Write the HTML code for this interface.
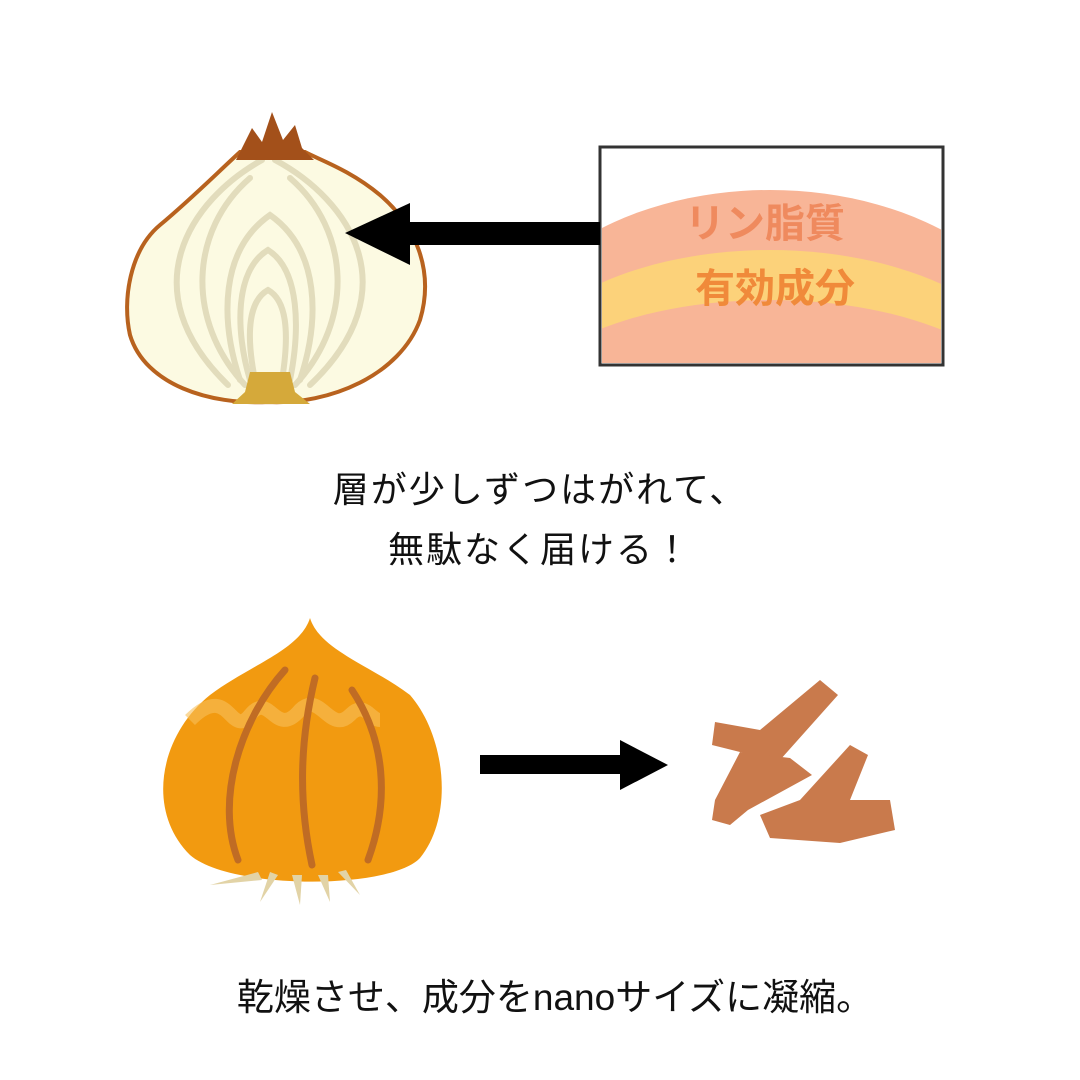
<!DOCTYPE html>
<html><head><meta charset="utf-8"><style>
body{margin:0;background:#fff;}
svg{display:block}
text{font-family:"Liberation Sans","Noto Sans CJK JP",sans-serif;}
</style></head><body>
<svg width="1080" height="1080" viewBox="0 0 1080 1080" xmlns="http://www.w3.org/2000/svg">
<rect width="1080" height="1080" fill="#fff"/>
<!-- cut onion -->
<path d="M240,152 C215,175 190,200 160,225 C130,250 122,300 130,335 C145,385 210,405 268,402 C330,405 400,375 420,320 C435,270 415,225 380,195 C350,170 320,160 305,152 Z" fill="#fcfae2" stroke="#b8621e" stroke-width="4"/>
<g fill="none" stroke="#e2dcbc" stroke-width="6" stroke-linecap="round">
<path d="M262,160 C190,200 130,290 228,385"/>
<path d="M275,160 C350,200 410,290 310,385"/>
<path d="M250,178 C190,230 185,320 245,385"/>
<path d="M290,178 C350,230 355,320 295,385"/>
<path d="M240,380 C220,320 220,250 270,215 C320,250 320,320 300,380"/>
<path d="M250,380 C235,330 235,270 268,250 C300,270 300,330 290,380"/>
<path d="M255,380 C245,330 250,300 268,290 C286,300 290,330 282,380"/>
</g>
<path d="M236,160 L252,128 L262,142 L272,112 L283,140 L295,125 L302,148 L314,160 Z" fill="#a3501a"/>
<path d="M250,372 L290,372 L295,392 L310,404 L232,404 L245,392 Z" fill="#d5a93a"/>
<!-- box -->
<rect x="600" y="147" width="343" height="218" fill="#fff" stroke="#333" stroke-width="3"/>
<clipPath id="bc"><rect x="602" y="149" width="339" height="214"/></clipPath>
<g clip-path="url(#bc)">
<ellipse cx="770" cy="380" rx="280" ry="190" fill="#f8b597"/>
<ellipse cx="770" cy="400" rx="270" ry="150" fill="#fcd27a"/>
<ellipse cx="770" cy="420" rx="260" ry="120" fill="#f8b597"/>
</g>
<text x="765" y="237" font-size="40" font-weight="bold" fill="#ef8a5e" text-anchor="middle">リン脂質</text>
<text x="775" y="302" font-size="40" font-weight="bold" fill="#f08a3a" text-anchor="middle">有効成分</text>
<!-- arrow 1 -->
<rect x="400" y="222" width="200" height="23" fill="#000"/>
<polygon points="345,233 410,203 410,265" fill="#000"/>
<text x="540" y="502" font-size="36" fill="#111" text-anchor="middle" letter-spacing="2">層が少しずつはがれて、</text>
<text x="540" y="562" font-size="36" fill="#111" text-anchor="middle" letter-spacing="2">無駄なく届ける！</text>
<!-- whole onion -->
<path d="M310,618 C300,650 250,665 210,695 C160,735 145,810 190,855 C230,890 390,890 420,858 C455,815 445,735 410,695 C370,665 320,650 310,618 Z" fill="#f29a10"/>
<path d="M190,720 C230,680 230,740 250,715 C270,690 275,740 300,710 C320,690 330,735 350,715 C365,700 370,720 380,720" fill="none" stroke="#f6c05a" stroke-width="14" opacity="0.6"/>
<g fill="none" stroke="#c06c24" stroke-width="7" stroke-linecap="round">
<path d="M285,670 C240,720 215,800 238,860"/>
<path d="M315,678 C300,740 298,800 312,865"/>
<path d="M352,690 C385,740 390,800 368,860"/>
</g>
<g fill="#e2d3a6">
<path d="M210,885 L258,872 L262,880 Z"/><path d="M260,902 L270,872 L278,875 Z"/>
<path d="M300,905 L292,875 L302,875 Z"/><path d="M330,902 L318,875 L328,875 Z"/>
<path d="M360,895 L338,872 L346,870 Z"/>
</g>
<!-- arrow 2 -->
<rect x="480" y="755" width="145" height="19" fill="#000"/>
<polygon points="620,740 668,765 620,790" fill="#000"/>
<!-- brown pieces -->
<g fill="#c97a4c">
<path d="M820,680 L838,695 L780,760 L740,752 L712,745 L715,722 L760,730 Z"/>
<path d="M740,752 L790,758 L812,775 L748,810 L730,825 L712,820 L715,800 Z"/>
<path d="M850,745 L868,755 L850,800 L890,800 L895,830 L840,843 L770,838 L760,815 L800,800 Z"/>
</g>
<text x="555" y="1010" font-size="37" fill="#111" text-anchor="middle">乾燥させ、成分をnanoサイズに凝縮。</text>
</svg>
</body></html>
